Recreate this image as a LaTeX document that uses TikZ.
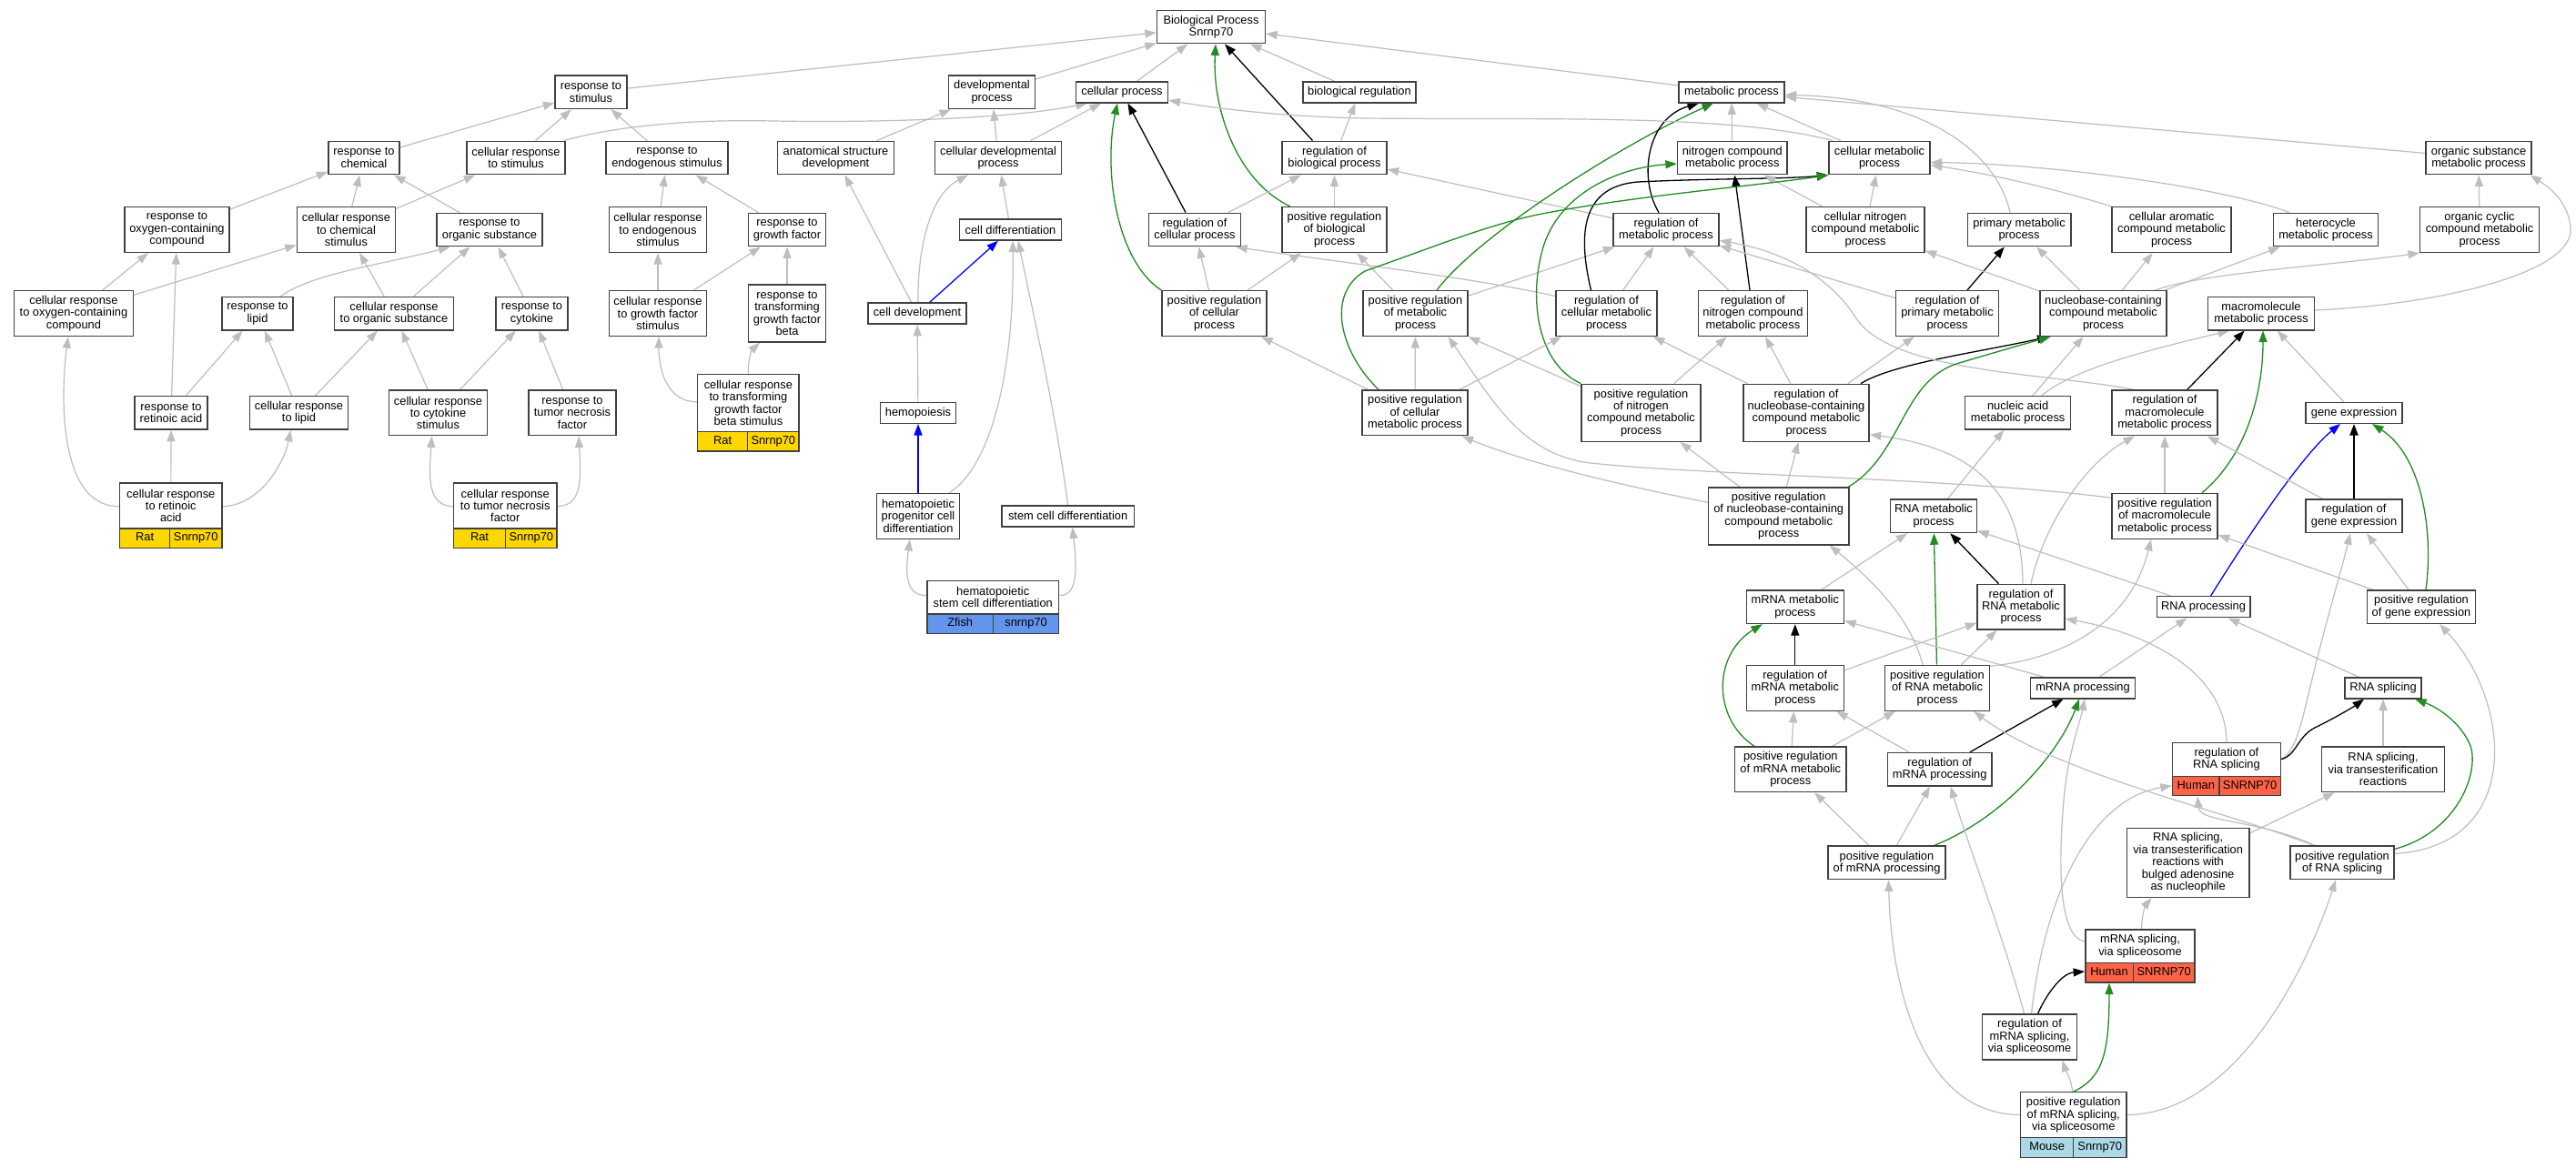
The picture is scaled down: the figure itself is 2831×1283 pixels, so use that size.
\documentclass[tikz,border=0pt]{standalone}
\usepackage{fontspec}
\setmainfont{Liberation Sans}
\usetikzlibrary{arrows.meta}
\pgfdeclarelayer{bgl}
\pgfdeclarelayer{edges}
\pgfsetlayers{bgl,edges,main}
\definecolor{edgegray}{RGB}{190,190,190}
\definecolor{fgreen}{RGB}{34,139,34}
\definecolor{ratc}{RGB}{255,215,0}
\definecolor{zfc}{RGB}{100,149,237}
\definecolor{humc}{RGB}{255,99,71}
\definecolor{mousec}{RGB}{173,216,230}
\newcommand{\gofont}{\fontsize{12.85pt}{13.4pt}\selectfont}
\begin{document}
\begin{tikzpicture}[x=1pt,y=-1pt,
  gobox/.style={draw=black!75, line width=1.4pt, fill=white, align=center, font=\gofont, inner xsep=1pt, inner ysep=0pt, text=black},
  h1/.style={minimum height=23pt}, h2/.style={minimum height=36.5pt}, h3/.style={minimum height=49.8pt},
  h4/.style={minimum height=63pt}, h5/.style={minimum height=76.4pt},
  recbase/.style={fill=white, inner sep=0pt, outer sep=0.7pt},
  recline/.style={draw=black!75, line width=1.4pt},
  gotxt/.style={align=center, font=\gofont, inner sep=0pt},
  stxt/.style={font=\gofont, inner sep=0pt, text height=9.2pt, text depth=2.8pt},
  tip/.style={-{Triangle[length=12.5pt,width=9pt]}},
  eg/.style={draw=edgegray, line width=1.2pt, tip},
  ek/.style={draw=black, line width=1.3pt, tip},
  egn/.style={draw=fgreen, line width=1.3pt, tip},
  ebl/.style={draw=blue, line width=1.3pt, tip}]
\begin{pgfonlayer}{bgl}
\fill[white] (0,0) rectangle (2831,1283);
\end{pgfonlayer}
\useasboundingbox (0,0) rectangle (2831,1283);

% ---------------- left group
\node[gobox,h2,minimum width=79pt] (rstim) at (649.5,101.3) {response to\\stimulus};
\node[gobox,h2,minimum width=78pt] (rchem) at (400,173.5) {response to\\chemical};
\node[gobox,h2,minimum width=108pt] (crstim) at (567,173.5) {cellular response\\to stimulus};
\node[gobox,h2,minimum width=134pt] (rendo) at (733,173.5) {response to\\endogenous stimulus};
\node[gobox,h3,minimum width=115pt] (roxy) at (194.5,252.5) {response to\\oxygen-containing\\compound};
\node[gobox,h3,minimum width=108pt] (crchem) at (380.5,252.5) {cellular response\\to chemical\\stimulus};
\node[gobox,h2,minimum width=116pt] (rorg) at (538,252.5) {response to\\organic substance};
\node[gobox,h3,minimum width=107.5pt] (crendo) at (723,252.5) {cellular response\\to endogenous\\stimulus};
\node[gobox,h3,minimum width=130.5pt] (croxy) at (81,344.6) {cellular response\\to oxygen-containing\\compound};
\node[gobox,h2,minimum width=78pt] (rlipid) at (283,344.6) {response to\\lipid};
\node[gobox,h2,minimum width=131pt] (crorg) at (433,344.6) {cellular response\\to organic substance};
\node[gobox,h2,minimum width=79pt] (rcyto) at (584.5,344.6) {response to\\cytokine};
\node[gobox,h3,minimum width=107.5pt] (crgf) at (723,344.6) {cellular response\\to growth factor\\stimulus};
\node[gobox,h2,minimum width=80pt] (rra) at (188,453.8) {response to\\retinoic acid};
\node[gobox,h2,minimum width=108pt] (crlipid) at (328.5,453.8) {cellular response\\to lipid};
\node[gobox,h3,minimum width=108pt] (crcyto) at (481.5,453.8) {cellular response\\to cytokine\\stimulus};
\node[gobox,h3,minimum width=96pt] (rtnf) at (629,453.8) {response to\\tumor necrosis\\factor};

% ---------------- middle group
\node[gobox,h2,minimum width=119pt] (bp) at (1331,29.5) {Biological Process\\Snrnp70};
\node[gobox,h2,minimum width=94.5pt] (devp) at (1090,101.3) {developmental\\process};
\node[gobox,h1,minimum width=101.5pt] (cellp) at (1233,101.3) {cellular process};
\node[gobox,h2,minimum width=128pt] (asd) at (918.5,173.5) {anatomical structure\\development};
\node[gobox,h2,minimum width=139.5pt] (cdevp) at (1097,173.5) {cellular developmental\\process};
\node[gobox,h2,minimum width=85.4pt] (rgf) at (865,252.5) {response to\\growth factor};
\node[gobox,h1,minimum width=112pt] (cdiff) at (1110.5,252.5) {cell differentiation};
\node[gobox,h2,minimum width=101pt] (regcp) at (1313,252.5) {regulation of\\cellular process};
\node[gobox,h4,minimum width=85.4pt] (rtgfb) at (865,344.6) {response to\\transforming\\growth factor\\beta};
\node[gobox,h1,minimum width=108pt] (celldev) at (1008,344.6) {cell development};
\node[gobox,h3,minimum width=115pt] (posregcp) at (1334.5,344.6) {positive regulation\\of cellular\\process};
\node[gobox,h1,minimum width=82.6pt] (hemo) at (1009,453.8) {hemopoiesis};
\node[gobox,h3,minimum width=90.5pt] (hpcd) at (1009,567.3) {hematopoietic\\progenitor cell\\differentiation};
\node[gobox,h1,minimum width=145.6pt] (scd) at (1173.6,567.3) {stem cell differentiation};

% ---------------- right group
\node[gobox,h1,minimum width=124pt] (bioreg) at (1494,101.3) {biological regulation};
\node[gobox,h1,minimum width=116pt] (metp) at (1903,101.3) {metabolic process};
\node[gobox,h2,minimum width=115pt] (regbp) at (1466.5,173.5) {regulation of\\biological process};
\node[gobox,h2,minimum width=120.5pt] (ncmp) at (1903.8,173.5) {nitrogen compound\\metabolic process};
\node[gobox,h2,minimum width=111pt] (cmp) at (2065.5,173.5) {cellular metabolic\\process};
\node[gobox,h2,minimum width=116pt] (osmp) at (2724,173.5) {organic substance\\metabolic process};
\node[gobox,h3,minimum width=115pt] (posregbp) at (1466.5,252.5) {positive regulation\\of biological\\process};
\node[gobox,h2,minimum width=116pt] (regmp) at (1831,252.5) {regulation of\\metabolic process};
\node[gobox,h3,minimum width=130pt] (cncmp) at (2050,252.5) {cellular nitrogen\\compound metabolic\\process};
\node[gobox,h2,minimum width=113.6pt] (pmp) at (2219,252.5) {primary metabolic\\process};
\node[gobox,h3,minimum width=131pt] (camp) at (2386.5,252.5) {cellular aromatic\\compound metabolic\\process};
\node[gobox,h2,minimum width=115.5pt] (hmp) at (2556,252.5) {heterocycle\\metabolic process};
\node[gobox,h3,minimum width=130.5pt] (occmp) at (2725,252.5) {organic cyclic\\compound metabolic\\process};
\node[gobox,h3,minimum width=115pt] (posregmp) at (1555.5,344.6) {positive regulation\\of metabolic\\process};
\node[gobox,h3,minimum width=111pt] (regcmp) at (1765.5,344.6) {regulation of\\cellular metabolic\\process};
\node[gobox,h3,minimum width=120pt] (regncmp) at (1926.4,344.6) {regulation of\\nitrogen compound\\metabolic process};
\node[gobox,h3,minimum width=113pt] (regpmp) at (2140,344.6) {regulation of\\primary metabolic\\process};
\node[gobox,h3,minimum width=139pt] (nbcmp) at (2311.5,344.6) {nucleobase-containing\\compound metabolic\\process};
\node[gobox,h2,minimum width=116.5pt] (macmp) at (2485,344.6) {macromolecule\\metabolic process};
\node[gobox,h3,minimum width=116pt] (posregcmp) at (1555,453.8) {positive regulation\\of cellular\\metabolic process};
\node[gobox,h4,minimum width=131pt] (posregncmp) at (1803.5,453.8) {positive regulation\\of nitrogen\\compound metabolic\\process};
\node[gobox,h4,minimum width=138pt] (regnbc) at (1985,453.8) {regulation of\\nucleobase-containing\\compound metabolic\\process};
\node[gobox,h2,minimum width=116pt] (nacmp) at (2217.6,453.8) {nucleic acid\\metabolic process};
\node[gobox,h3,minimum width=116pt] (regmacmp) at (2379,453.8) {regulation of\\macromolecule\\metabolic process};
\node[gobox,h1,minimum width=106pt] (geneexp) at (2587,453.8) {gene expression};
\node[gobox,h4,minimum width=154.3pt] (posregnbc) at (1954.7,567.3) {positive regulation\\of nucleobase-containing\\compound metabolic\\process};
\node[gobox,h2,minimum width=95pt] (rnamp) at (2125,567.3) {RNA metabolic\\process};
\node[gobox,h3,minimum width=116pt] (posregmacmp) at (2379,567.3) {positive regulation\\of macromolecule\\metabolic process};
\node[gobox,h2,minimum width=106pt] (reggeneexp) at (2587,567.3) {regulation of\\gene expression};
\node[gobox,h2,minimum width=107pt] (mrnamp) at (1972.8,667.2) {mRNA metabolic\\process};
\node[gobox,h3,minimum width=96pt] (regrnamp) at (2221,667.2) {regulation of\\RNA metabolic\\process};
\node[gobox,h1,minimum width=102.6pt] (rnaproc) at (2421.6,667.2) {RNA processing};
\node[gobox,h2,minimum width=119.5pt] (posreggeneexp) at (2661,667.2) {positive regulation\\of gene expression};
\node[gobox,h3,minimum width=107pt] (regmrnamp) at (1972.8,756.3) {regulation of\\mRNA metabolic\\process};
\node[gobox,h3,minimum width=114.6pt] (posregrnamp) at (2129,756.3) {positive regulation\\of RNA metabolic\\process};
\node[gobox,h1,minimum width=114.6pt] (mrnaproc) at (2289,756.3) {mRNA processing};
\node[gobox,h1,minimum width=84pt] (rnasplicing) at (2619,756.3) {RNA splicing};
\node[gobox,h3,minimum width=122.5pt] (posregmrnamp) at (1967.8,845.7) {positive regulation\\of mRNA metabolic\\process};
\node[gobox,h2,minimum width=114.6pt] (regmrnaproc) at (2131.7,845.7) {regulation of\\mRNA processing};
\node[gobox,h3,minimum width=134.5pt] (rnasplt) at (2619,845.7) {RNA splicing,\\via transesterification\\reactions};
\node[gobox,h2,minimum width=129.3pt] (posregmrnaproc) at (2073.5,948.4) {positive regulation\\of mRNA processing};
\node[gobox,h5,minimum width=134.5pt] (rnasplbulged) at (2404.6,948.4) {RNA splicing,\\via transesterification\\reactions with\\bulged adenosine\\as nucleophile};
\node[gobox,h2,minimum width=114pt] (posregrnasplicing) at (2574,948.4) {positive regulation\\of RNA splicing};
\node[gobox,h3,minimum width=104pt] (regmrnasplicing) at (2230.5,1140) {regulation of\\mRNA splicing,\\via spliceosome};

% ---------------- record nodes
\node[recbase, minimum width=112.2pt, minimum height=71.5pt] (crra) at (187.8,566.7) {};
\fill[ratc] (131.7,580.95) rectangle (243.9,602.45);
\draw[recline] (131.7,580.95) -- (243.9,580.95) (186.6,580.95) -- (186.6,602.45);
\draw[recline] (131.7,530.95) rectangle (243.9,602.45);
\node[gotxt] (crra-t) at (187.8,555.95) {cellular response\\to retinoic\\acid};
\node[stxt] (crra-s) at (159.15,591.7) {Rat};
\node[stxt] (crra-g) at (215.25,591.7) {Snrnp70};

\node[recbase, minimum width=113.7pt, minimum height=71.5pt] (crtnf) at (555.25,566.7) {};
\fill[ratc] (498.4,580.95) rectangle (612.1,602.45);
\draw[recline] (498.4,580.95) -- (612.1,580.95) (555.6,580.95) -- (555.6,602.45);
\draw[recline] (498.4,530.95) rectangle (612.1,602.45);
\node[gotxt] (crtnf-t) at (555.25,555.95) {cellular response\\to tumor necrosis\\factor};
\node[stxt] (crtnf-s) at (527.0,591.7) {Rat};
\node[stxt] (crtnf-g) at (583.85,591.7) {Snrnp70};

\node[recbase, minimum width=111.3pt, minimum height=84.5pt] (crtgfb) at (822.35,453.8) {};
\fill[ratc] (766.7,474.55) rectangle (878.0,496.05);
\draw[recline] (766.7,474.55) -- (878.0,474.55) (821.6,474.55) -- (821.6,496.05);
\draw[recline] (766.7,411.55) rectangle (878.0,496.05);
\node[gotxt] (crtgfb-t) at (822.35,443.05) {cellular response\\to transforming\\growth factor\\beta stimulus};
\node[stxt] (crtgfb-s) at (794.15,485.3) {Rat};
\node[stxt] (crtgfb-g) at (849.8,485.3) {Snrnp70};

\node[recbase, minimum width=144.8pt, minimum height=58pt] (hscd) at (1091.2,667.3) {};
\fill[zfc] (1018.8,674.8) rectangle (1163.6,696.3);
\draw[recline] (1018.8,674.8) -- (1163.6,674.8) (1091.6,674.8) -- (1091.6,696.3);
\draw[recline] (1018.8,638.3) rectangle (1163.6,696.3);
\node[gotxt] (hscd-t) at (1091.2,656.55) {hematopoietic\\stem cell differentiation};
\node[stxt] (hscd-s) at (1055.2,685.55) {Zfish};
\node[stxt] (hscd-g) at (1127.6,685.55) {snrnp70};

\node[recbase, minimum width=118.6pt, minimum height=58pt] (regrnasplicing) at (2446.9,845.7) {};
\fill[humc] (2387.6,853.2) rectangle (2506.2,874.7);
\draw[recline] (2387.6,853.2) -- (2506.2,853.2) (2439,853.2) -- (2439,874.7);
\draw[recline] (2387.6,816.7) rectangle (2506.2,874.7);
\node[gotxt] (regrnasplicing-t) at (2446.9,834.95) {regulation of\\RNA splicing};
\node[stxt] (regrnasplicing-s) at (2413.3,863.95) {Human};
\node[stxt] (regrnasplicing-g) at (2472.6,863.95) {SNRNP70};

\node[recbase, minimum width=120.3pt, minimum height=58pt] (mrnasplicing) at (2351.95,1051) {};
\fill[humc] (2291.8,1058.5) rectangle (2412.1,1080);
\draw[recline] (2291.8,1058.5) -- (2412.1,1058.5) (2344.2,1058.5) -- (2344.2,1080);
\draw[recline] (2291.8,1022) rectangle (2412.1,1080);
\node[gotxt] (mrnasplicing-t) at (2351.95,1040.25) {mRNA splicing,\\via spliceosome};
\node[stxt] (mrnasplicing-s) at (2318,1069.25) {Human};
\node[stxt] (mrnasplicing-g) at (2378.15,1069.25) {SNRNP70};

\node[recbase, minimum width=116.2pt, minimum height=71.5pt] (posregmrnasplicing) at (2278.7,1236.5) {};
\fill[mousec] (2220.6,1250.75) rectangle (2336.8,1272.25);
\draw[recline] (2220.6,1250.75) -- (2336.8,1250.75) (2278.7,1250.75) -- (2278.7,1272.25);
\draw[recline] (2220.6,1200.75) rectangle (2336.8,1272.25);
\node[gotxt] (posregmrnasplicing-t) at (2278.7,1225.75) {positive regulation\\of mRNA splicing,\\via spliceosome};
\node[stxt] (posregmrnasplicing-s) at (2249.65,1261.5) {Mouse};
\node[stxt] (posregmrnasplicing-g) at (2307.75,1261.5) {Snrnp70};

% ---------------- edges
\begin{pgfonlayer}{edges}
% left
\draw[eg] (rstim) -- (bp);
\draw[eg] (rchem) -- (rstim);
\draw[eg] (crstim) -- (rstim);
\draw[eg] (rendo) -- (rstim);
\draw[eg] ([xshift=-2pt]crstim.north east) .. controls (680,138) and (760,131) .. (850,133) .. controls (960,135) and (1110,131) .. ([xshift=-38pt]cellp.south);
\draw[eg] (roxy) -- (rchem);
\draw[eg] (crchem) -- (rchem);
\draw[eg] (crchem) -- (crstim);
\draw[eg] (rorg) -- (rchem);
\draw[eg] (crendo) -- (rendo);
\draw[eg] (rgf) -- (rendo);
\draw[eg] (croxy) -- (roxy);
\draw[eg] (croxy) -- (crchem);
\draw[eg] ([xshift=25.5pt]rlipid.north) .. controls (345,300) and (420,291) .. ([xshift=-43.5pt]rorg.south);
\draw[eg] (crorg) -- (crchem);
\draw[eg] (crorg) -- (rorg);
\draw[eg] (rcyto) -- (rorg);
\draw[eg] (crgf) -- (crendo);
\draw[eg] (crgf) -- (rgf);
\draw[eg] (rtgfb) -- (rgf);
\draw[eg] (rra) -- (roxy);
\draw[eg] (rra) -- (rlipid);
\draw[eg] (crlipid) -- (rlipid);
\draw[eg] (crlipid) -- (crorg);
\draw[eg] (crcyto) -- (crorg);
\draw[eg] (crcyto) -- (rcyto);
\draw[eg] (rtnf) -- (rcyto);
\draw[eg] ([yshift=10pt]crra.west) .. controls (60,557) and (68,420) .. ([xshift=-6pt]croxy.south);
\draw[eg] (crra) -- (rra);
\draw[eg] ([yshift=10pt]crra.east) .. controls (285,556) and (312,510) .. ([xshift=-9pt]crlipid.south);
\draw[eg] ([yshift=10pt]crtnf.west) .. controls (468,556) and (472,520) .. ([xshift=-7pt]crcyto.south);
\draw[eg] ([yshift=10pt]crtnf.east) .. controls (642,556) and (638,520) .. ([xshift=7pt]rtnf.south);
\draw[eg] ([yshift=12pt]crtgfb.west) .. controls (735,442) and (724,410) .. ([xshift=1pt]crgf.south);
\draw[eg] (crtgfb.north) .. controls (822,395) and (826,385) .. ([xshift=-30pt]rtgfb.south);
% middle
\draw[eg] (devp) -- (bp);
\draw[eg] (cellp) -- (bp);
\draw[eg] (asd) -- (devp);
\draw[eg] (cdevp) -- (devp);
\draw[eg] (cdevp) -- (cellp);
\draw[eg] (celldev) -- (asd);
\draw[eg] ([xshift=1pt]celldev.north) .. controls (1008,280) and (1020,215) .. ([xshift=-33pt]cdevp.south);
\draw[eg] (cdiff) -- (cdevp);
\draw[ebl] (celldev) -- (cdiff);
\draw[eg] (hemo) -- (celldev);
\draw[ebl] (hpcd) -- (hemo);
\draw[eg] ([xshift=-11.5pt]hpcd.north east) .. controls (1092,510) and (1115,400) .. ([xshift=2.5pt]cdiff.south);
\draw[eg] (scd.north) .. controls (1160,450) and (1130,320) .. ([xshift=8.5pt]cdiff.south);
\draw[eg] ([yshift=12.7pt]hscd.west) .. controls (995,655) and (995,630) .. ([xshift=-9pt]hpcd.south);
\draw[eg] ([yshift=12.7pt]hscd.east) .. controls (1186,655) and (1183,620) .. ([xshift=5pt]scd.south);
\draw[ek] (regcp) -- (cellp);
\draw[egn] (posregcp.north west) .. controls (1228,288) and (1212,190) .. ([xshift=-5pt]cellp.south);
\draw[ek] ([xshift=-24pt]regbp.north) -- ([xshift=15pt]bp.south);
\draw[egn] ([xshift=-48.5pt]posregbp.north) .. controls (1360,200) and (1332,120) .. ([xshift=5pt]bp.south);
\draw[eg] (bioreg) -- (bp);
\draw[eg] (metp) -- (bp);
\draw[eg] (regbp) -- (bioreg);
\draw[eg] (regcp) -- (regbp);
\draw[eg] (posregbp) -- (regbp);
\draw[eg] (posregcp) -- (regcp);
\draw[eg] (posregcp) -- (posregbp);
\draw[eg] ([yshift=19pt]regcmp.west) .. controls (1620,305) and (1440,284) .. ([xshift=-6pt]regcp.south east);
\draw[eg] (posregcmp) -- (posregcp);
\draw[eg] (posregmp) -- (posregbp);
\draw[eg] (regmp) -- (regbp);
\draw[eg] (posregmp) -- (regmp);
\draw[egn] ([xshift=23.5pt]posregmp.north) .. controls (1625,258) and (1780,160) .. ([xshift=-20pt]metp.south);
\draw[ek] ([xshift=-8pt]regmp.north) .. controls (1800,195) and (1810,130) .. ([xshift=-36pt]metp.south);
\draw[eg] (ncmp) -- (metp);
\draw[eg] (cmp) -- (metp);
\draw[eg] ([xshift=5pt]cmp.north west) .. controls (1900,125) and (1700,132) .. (1500,130) .. controls (1400,128) and (1330,118) .. ([yshift=-9pt]cellp.east);
\draw[eg] (regcmp) -- (regmp);
\draw[ek] ([xshift=-17pt]regcmp.north) .. controls (1735,262) and (1735,205) .. (1800,200) .. controls (1880,196) and (1960,197) .. (cmp.south west);
\draw[eg] (regncmp) -- (regmp);
\draw[ek] (regncmp) -- (ncmp);
\draw[eg] (cncmp) -- (ncmp);
\draw[eg] (cncmp) -- (cmp);
\draw[egn] (posregncmp.north west) .. controls (1690,400) and (1680,330) .. (1695,275) .. controls (1712,212) and (1780,184) .. ([yshift=-6.5pt]ncmp.west);
\draw[eg] (posregcmp) -- (posregmp);
\draw[eg] (posregcmp) -- (regcmp);
\draw[egn] ([xshift=-40pt]posregcmp.north) .. controls (1475,390) and (1455,325) .. (1500,298) .. controls (1580,270) and (1640,245) .. (1700,234) .. controls (1800,215) and (1940,203) .. (cmp.south west);
\draw[eg] (posregncmp) -- (posregmp);
\draw[eg] ([yshift=20pt]posregmacmp.west) .. controls (2150,525) and (1850,522) .. (1740,508) .. controls (1670,495) and (1640,440) .. ([xshift=36pt]posregmp.south);
\draw[eg] (posregncmp) -- (regncmp);
\draw[eg] (regnbc) -- (regcmp);
\draw[eg] (regnbc) -- (regncmp);
\draw[ek] ([xshift=60pt]regnbc.north) .. controls (2080,400) and (2170,388) .. ([xshift=-60pt]nbcmp.south);
\draw[eg] (regnbc) -- (regpmp);
\draw[ek] (regpmp) -- (pmp);
\draw[eg] (regpmp) -- (regmp);
\draw[eg] ([xshift=-34pt]regmacmp.north) .. controls (2250,410) and (2080,410) .. (2040,350) .. controls (2012,305) and (1960,276) .. ([yshift=-12pt]regmp.east);
\draw[eg] (camp.north west) .. controls (2250,205) and (2180,190) .. ([yshift=-8pt]cmp.east);
\draw[eg] ([xshift=-40pt]hmp.north) .. controls (2440,205) and (2250,180) .. ([yshift=-5pt]cmp.east);
\draw[eg] ([xshift=-10pt]pmp.north) .. controls (2195,170) and (2120,108) .. ([yshift=-3pt]metp.east);
\draw[eg] (osmp) -- (metp);
\draw[eg] ([yshift=3.6pt]macmp.east) .. controls (2680,335) and (2830,300) .. (2825,250) .. controls (2822,220) and (2800,205) .. ([xshift=-2pt]osmp.south east);
\draw[eg] (occmp) -- (osmp);
\draw[eg] ([xshift=57pt]nbcmp.north) .. controls (2420,300) and (2560,292) .. (occmp.south west);
\draw[eg] (nbcmp) -- (hmp);
\draw[eg] (nbcmp) -- (camp);
\draw[eg] (nbcmp) -- (pmp);
\draw[eg] (nbcmp) -- (cncmp);
\draw[eg] (nacmp) -- (nbcmp);
\draw[eg] ([xshift=26pt]nacmp.north) .. controls (2280,405) and (2360,385) .. ([xshift=-35pt]macmp.south);
\draw[ek] (regmacmp) -- (macmp);
\draw[egn] ([xshift=41pt]posregmacmp.north) .. controls (2470,500) and (2487,430) .. ([xshift=2pt]macmp.south);
\draw[eg] (geneexp) -- (macmp);
\draw[ek, line width=2pt] (reggeneexp) -- (geneexp);
\draw[ebl] ([xshift=8pt]rnaproc.north) .. controls (2470,590) and (2530,500) .. ([xshift=-15pt]geneexp.south);
\draw[egn] ([xshift=5pt]posreggeneexp.north) .. controls (2675,580) and (2660,500) .. ([xshift=20pt]geneexp.south);
\draw[eg] (posregmacmp) -- (regmacmp);
\draw[eg] (reggeneexp) -- (regmacmp);
\draw[eg] ([xshift=11pt]regrnamp.north) .. controls (2245,580) and (2290,510) .. ([xshift=-33pt]regmacmp.south);
\draw[eg] (posreggeneexp) -- (reggeneexp);
\draw[eg] ([yshift=11pt]regrnasplicing.east) .. controls (2525,825) and (2530,790) .. (2545,730) .. controls (2560,670) and (2575,620) .. ([xshift=-4pt]reggeneexp.south);
\draw[eg] (posreggeneexp) -- (posregmacmp);
\draw[eg] ([yshift=24pt]posregrnamp.east) .. controls (2260,725) and (2340,690) .. ([xshift=-15pt]posregmacmp.south);
\draw[eg] ([xshift=2pt]regrnamp.north) .. controls (2222,560) and (2190,495) .. ([yshift=-24pt]regnbc.east);
\draw[eg] (posregnbc) -- (regnbc);
\draw[eg] (posregnbc) -- (posregncmp);
\draw[eg] ([yshift=15pt]posregnbc.west) .. controls (1790,535) and (1680,510) .. ([xshift=-7pt]posregcmp.south east);
\draw[egn] ([xshift=-1pt]posregnbc.north east) .. controls (2090,500) and (2090,420) .. (2150,400) .. controls (2190,388) and (2225,378) .. ([xshift=-58pt]nbcmp.south);
\draw[eg] ([xshift=-16pt]posregrnamp.north) .. controls (2100,680) and (2060,640) .. ([xshift=56pt]posregnbc.south);
\draw[eg] (rnamp) -- (nacmp);
\draw[eg] (mrnamp) -- (rnamp);
\draw[ek] (regrnamp) -- (rnamp);
\draw[egn] (posregrnamp) -- (rnamp);
\draw[eg] (rnaproc) -- (rnamp);
\draw[ek] ([yshift=11pt]regrnasplicing.east) .. controls (2525,830) and (2524,808) .. (2548,798) .. controls (2570,787) and (2588,776) .. ([xshift=-21pt]rnasplicing.south);
\draw[eg] (rnasplt) -- (rnasplicing);
\draw[egn] ([yshift=15pt]posregrnasplicing.east) .. controls (2700,915) and (2725,850) .. (2715,820) .. controls (2705,795) and (2680,778) .. ([xshift=35pt]rnasplicing.south);
\draw[eg] (posregmrnamp) -- (regmrnamp);
\draw[eg] (regmrnaproc) -- (regmrnamp);
\draw[eg] (posregmrnamp) -- (posregrnamp);
\draw[eg] (regmrnamp) -- (regrnamp);
\draw[eg] (posregrnamp) -- (regrnamp);
\draw[eg] (mrnaproc) -- (mrnamp);
\draw[ek] (regmrnaproc) -- (mrnaproc);
\draw[egn] ([xshift=52pt]posregmrnaproc.north) .. controls (2200,900) and (2262,830) .. ([xshift=-4pt]mrnaproc.south);
\draw[eg] ([yshift=16pt]mrnasplicing.west) .. controls (2262,1030) and (2262,950) .. (2268,880) .. controls (2272,830) and (2287,790) .. ([xshift=2pt]mrnaproc.south);
\draw[eg] (mrnaproc) -- (rnaproc);
\draw[eg] (rnasplicing) -- (rnaproc);
\draw[eg] (posregmrnaproc) -- (posregmrnamp);
\draw[eg] (posregmrnaproc) -- (regmrnaproc);
\draw[eg] ([xshift=-6pt]regmrnasplicing.north) .. controls (2205,1040) and (2160,920) .. ([xshift=12pt]regmrnaproc.south);
\draw[eg] ([xshift=2pt]regmrnasplicing.north) .. controls (2245,1000) and (2290,880) .. ([yshift=-18pt]regrnasplicing.west);
\draw[eg] (rnasplbulged) -- (rnasplt);
\draw[eg] ([yshift=11pt]posregmrnasplicing.west) .. controls (2110,1225) and (2078,1080) .. ([xshift=2pt]posregmrnaproc.south);
\draw[eg] ([yshift=11pt]posregmrnasplicing.east) .. controls (2450,1225) and (2530,1080) .. ([xshift=-7pt]posregrnasplicing.south);
\draw[eg] ([xshift=1.5pt]mrnasplicing.north) .. controls (2354,1005) and (2358,995) .. ([xshift=-40pt]rnasplbulged.south);
\draw[ek] ([xshift=9pt]regmrnasplicing.north) .. controls (2248,1095) and (2265,1070) .. ([yshift=-17pt]mrnasplicing.west);
\draw[egn] (posregmrnasplicing.north) .. controls (2310,1185) and (2318,1160) .. ([xshift=-34pt]mrnasplicing.south);
\draw[eg] ([xshift=-1pt]posregmrnasplicing.north) .. controls (2276,1185) and (2270,1177) .. ([xshift=36pt]regmrnasplicing.south);
\draw[eg] ([xshift=-31pt]posregrnasplicing.north) .. controls (2440,890) and (2260,850) .. ([xshift=40pt]posregrnamp.south);
\draw[eg] ([xshift=-30pt]posregrnasplicing.north) .. controls (2480,900) and (2418,905) .. ([xshift=-32pt]regrnasplicing.south);
\draw[eg] ([yshift=10pt]posregrnasplicing.east) .. controls (2775,930) and (2760,770) .. ([xshift=20pt]posreggeneexp.south);
\draw[eg] (regrnasplicing.north) .. controls (2447,750) and (2380,700) .. ([yshift=-13pt]regrnamp.east);
\draw[egn] ([xshift=-40pt]posregmrnamp.north) .. controls (1882,790) and (1882,720) .. ([xshift=-36pt]mrnamp.south);
\draw[ek] (regmrnamp) -- (mrnamp);
\end{pgfonlayer}
\end{tikzpicture}
\end{document}
